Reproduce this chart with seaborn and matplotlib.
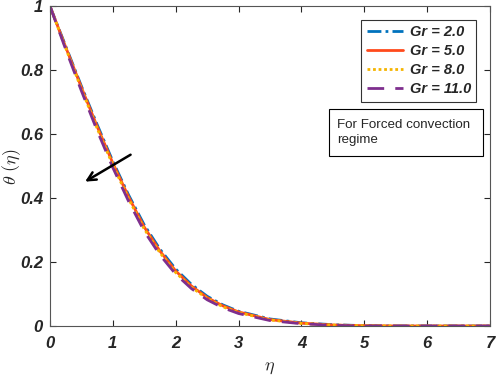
import numpy as np
import pandas as pd
import matplotlib
matplotlib.use("Agg")
import matplotlib.pyplot as plt
from matplotlib.patches import Rectangle
import seaborn as sns

# values
eta = [0, 0.25, 0.5, 0.75, 1.0, 1.25, 1.5, 1.75, 2.0, 2.25, 2.5, 2.75, 3.0,
       3.5, 4.0, 4.5, 5.0, 5.5, 6.0, 6.5, 7.0]
theta_gr2 = [1.0, 0.875, 0.750, 0.630, 0.515, 0.410, 0.316, 0.240, 0.178, 0.130,
             0.093, 0.066, 0.046, 0.022, 0.010, 0.004, 0.001, 0.0, 0.0, 0.0, 0.0]
theta_gr5 = [1.0, 0.872, 0.746, 0.624, 0.509, 0.404, 0.309, 0.234, 0.172, 0.125,
             0.089, 0.063, 0.044, 0.020, 0.009, 0.003, 0.001, 0.0, 0.0, 0.0, 0.0]
theta_gr8 = [1.0, 0.869, 0.741, 0.618, 0.503, 0.398, 0.303, 0.229, 0.167, 0.121,
             0.086, 0.060, 0.042, 0.019, 0.008, 0.003, 0.001, 0.0, 0.0, 0.0, 0.0]
theta_gr11 = [1.0, 0.865, 0.735, 0.611, 0.495, 0.390, 0.296, 0.222, 0.162, 0.117,
              0.082, 0.057, 0.039, 0.017, 0.007, 0.002, 0.0, 0.0, 0.0, 0.0, 0.0]
labels = ["Gr = 2.0", "Gr = 5.0", "Gr = 8.0", "Gr = 11.0"]
colors = ["#0072BD", "#FF4A1C", "#F5B400", "#7E2F8E"]
styles = [(0, (5, 1.5, 1, 1.5)), "-", (0, (1, 1)), (0, (6, 4))]

series = [theta_gr2, theta_gr5, theta_gr8, theta_gr11]

sns.set_style("ticks")
plt.rcParams["font.family"] = ["Liberation Sans", "DejaVu Sans"]
plt.rcParams["mathtext.fontset"] = "cm"

fig = plt.figure(figsize=(4.98, 3.78), dpi=100)
ax = fig.add_axes([0.1004, 0.1376, 0.8835, 0.846])

for y, lab, c, ls in zip(series, labels, colors, styles):
    df = pd.DataFrame({"eta": eta, "theta": y})
    sns.lineplot(data=df, x="eta", y="theta", ax=ax, color=c, linestyle=ls,
                 linewidth=2, label=lab)

ax.set_xlim(0, 7)
ax.set_ylim(0, 1)
ax.set_xticks(range(8))
ax.set_yticks([0, 0.2, 0.4, 0.6, 0.8, 1.0])
ax.set_xticklabels([str(i) for i in range(8)])
ax.set_yticklabels(["0", "0.2", "0.4", "0.6", "0.8", "1"])
for t in ax.get_xticklabels() + ax.get_yticklabels():
    t.set_fontweight("bold")
    t.set_fontstyle("italic")
    t.set_fontsize(12)
ax.tick_params(direction="in", top=True, right=True, length=4, width=0.8,
               colors="#262626", pad=5)
ax.tick_params(axis="x", pad=7)
for s in ax.spines.values():
    s.set_color("#555555")
    s.set_linewidth(0.8)

ax.set_xlabel(r"$\eta$", fontsize=13)
ax.set_ylabel(r"$\theta\ (\eta)$", fontsize=13)
ax.xaxis.set_label_coords(0.5, -0.131)
ax.xaxis.label.set_va("center")
ax.yaxis.set_label_coords(-0.088, 0.5)
ax.yaxis.label.set_va("center")

leg = ax.legend(loc="upper right", bbox_to_anchor=(0.968, 0.958), frameon=True,
                fancybox=False, edgecolor="black", handlelength=2.5,
                borderpad=0.35, labelspacing=0.36, handletextpad=0.45,
                borderaxespad=0.0,
                prop={"weight": "bold", "style": "italic", "size": 10.5})
leg.get_frame().set_linewidth(0.8)

ax.add_patch(Rectangle((0.634, 0.531), 0.35, 0.147, transform=ax.transAxes,
                       fc="white", ec="black", lw=0.8, zorder=5))
ax.text(0.652, 0.647, "For Forced convection\nregime", transform=ax.transAxes,
        fontsize=9.6, va="top", ha="left", linespacing=1.3, zorder=6)

ax.annotate("", xy=(0.52, 0.447), xytext=(1.32, 0.54),
            arrowprops=dict(arrowstyle="->,head_length=0.6,head_width=0.3",
                            color="black", lw=1.8))

fig.savefig("out.png", dpi=100)
